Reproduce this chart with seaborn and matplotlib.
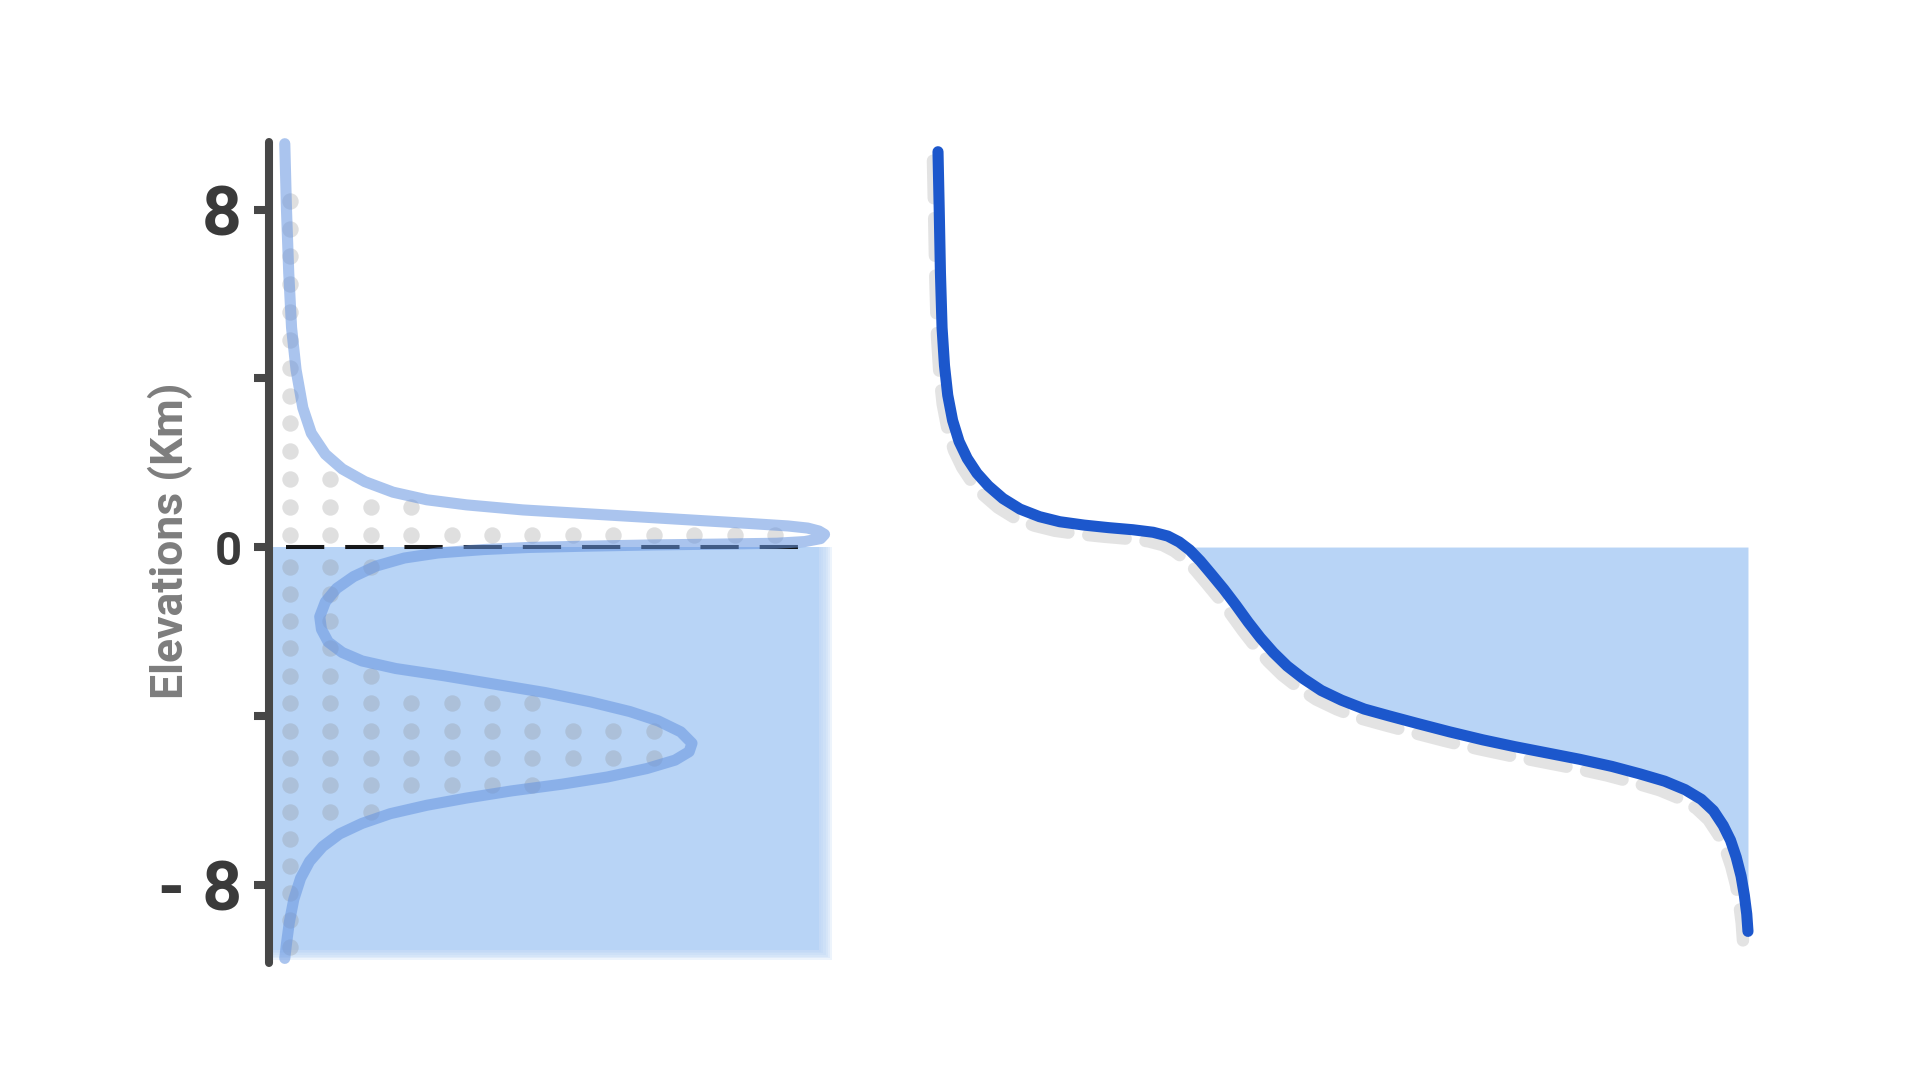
import numpy as np
import pandas as pd
import matplotlib
matplotlib.use("Agg")
import matplotlib.pyplot as plt
from matplotlib.transforms import offset_copy
import seaborn as sns


# =========================================================
# DATA
# =========================================================

# left panel: relative share of surface at each elevation (km)
density_elev = [
    9.56, 8.0, 6.5, 5.2, 4.2, 3.3, 2.7, 2.2, 1.85, 1.55,
    1.30, 1.12, 1.00, 0.88, 0.80, 0.72, 0.64, 0.56, 0.50, 0.45,
    0.38, 0.30, 0.20, 0.13, 0.09, 0.07, 0.05, 0.02, -0.01, -0.06,
    -0.14, -0.26, -0.45, -0.70, -0.98, -1.30, -1.65, -1.95, -2.25, -2.50,
    -2.70, -2.88, -3.05, -3.25, -3.45, -3.67, -3.90, -4.12, -4.38, -4.65,
    -4.85, -5.05, -5.25, -5.45, -5.62, -5.78, -5.95, -6.12, -6.32, -6.55,
    -6.80, -7.10, -7.45, -7.85, -8.35, -8.90, -9.40, -9.75,
]
density_share = [
    0.028, 0.031, 0.035, 0.040, 0.048, 0.060, 0.075, 0.100, 0.130, 0.170,
    0.220, 0.280, 0.350, 0.450, 0.550, 0.650, 0.750, 0.850, 0.920, 0.955,
    0.975, 0.985, 0.978, 0.950, 0.900, 0.800, 0.680, 0.560, 0.460, 0.380,
    0.300, 0.240, 0.190, 0.150, 0.120, 0.100, 0.090, 0.093, 0.105, 0.130,
    0.165, 0.225, 0.310, 0.400, 0.490, 0.570, 0.640, 0.690, 0.730, 0.750,
    0.745, 0.720, 0.670, 0.600, 0.520, 0.430, 0.350, 0.280, 0.215, 0.165,
    0.125, 0.095, 0.072, 0.056, 0.044, 0.036, 0.031, 0.028,
]

# dotted histogram behind the density curve: rows (km) and dots per row
dot_elev = [
    8.21, 7.55, 6.89, 6.23, 5.57, 4.91, 4.25, 3.59, 2.93, 2.27,
    1.61, 0.95, 0.29, -0.48, -1.12, -1.76, -2.40, -3.05, -3.70, -4.35,
    -5.00, -5.64, -6.28, -6.92, -7.56, -8.20, -8.84, -9.48,
]
dot_count = [
    1, 1, 1, 1, 1, 1, 1, 1, 1, 1,
    2, 4, 13, 3, 2, 2, 2, 3, 7, 10,
    10, 7, 3, 1, 1, 1, 1, 1,
]
dot_bin_width = 0.0717

# right panel: hypsometric curve, cumulative % of area above elevation
hyp_area = [
    0.0, 0.15, 0.3, 0.5, 0.8, 1.2, 1.8, 2.6, 3.6, 4.8,
    6.2, 8.0, 10.1, 12.5, 15.0, 18.0, 21.0, 24.0, 26.5, 28.3,
    29.7, 31.0, 32.3, 33.7, 35.2, 36.7, 38.2, 39.7, 41.3, 43.0,
    45.0, 47.2, 49.7, 52.5, 55.5, 59.0, 63.0, 67.1, 71.0, 75.0,
    79.0, 83.0, 86.5, 89.5, 92.0, 94.0, 95.5, 96.7, 97.6, 98.3,
    98.9, 99.3, 99.6, 99.75,
]
hyp_elev = [
    9.37, 8.00, 6.50, 5.20, 4.30, 3.60, 3.00, 2.50, 2.10, 1.75,
    1.45, 1.15, 0.90, 0.72, 0.60, 0.52, 0.46, 0.41, 0.35, 0.26,
    0.12, -0.07, -0.33, -0.65, -1.00, -1.38, -1.78, -2.15, -2.50, -2.82,
    -3.12, -3.40, -3.63, -3.84, -4.00, -4.18, -4.38, -4.57, -4.73, -4.88,
    -5.03, -5.20, -5.38, -5.55, -5.75, -5.98, -6.25, -6.60, -6.95, -7.35,
    -7.80, -8.25, -8.70, -9.11,
]

elev_ticks = [8, 4, 0, -4, -8]
elev_tick_labels = ["8", "", "0", "", "- 8"]
y_label = "Elevations (Km)"


# =========================================================
# STYLE
# =========================================================

sns.set_theme(style="white")
plt.rcParams["font.family"] = ["Roboto", "DejaVu Sans"]

FILL_BLUE = "#b8d4f6"
CURVE_BLUE = "#1c57cc"
SOFT_BLUE = "#6594e0"
AXIS_GREY = "#474747"
YLIM = (-9.86, 9.6)


fig = plt.figure(figsize=(19.2, 10.8), dpi=100)
ax_left = fig.add_axes([0.1401, 0.1083, 0.29375, 0.7602])
ax_right = fig.add_axes([0.48854, 0.1083, 0.42292, 0.7602])

for ax in (ax_left, ax_right):
    ax.set_facecolor("none")


# =========================================================
# LEFT PANEL: DISTRIBUTION OF ELEVATIONS
# =========================================================

# ocean area (soft edged rectangle below sea level)
ax_left.fill_between([0, 0.975], -9.55, 0, color=FILL_BLUE, lw=0, zorder=1)
for i in range(1, 7):
    ax_left.fill_between(
        [0, 0.975 + 0.004 * i], -9.55 - 0.04 * i, 0,
        color=FILL_BLUE, alpha=0.25, lw=0, zorder=1,
    )

dots = pd.DataFrame(
    [
        {"share": 0.037 + dot_bin_width * k, "elev": e}
        for e, n in zip(dot_elev, dot_count)
        for k in range(n)
    ]
)
sns.scatterplot(
    data=dots, x="share", y="elev",
    s=140, color="#8c8c8c", alpha=0.27, linewidth=0,
    ax=ax_left, zorder=2, legend=False,
)

ax_left.axhline(
    0, xmin=0.03, xmax=0.955, color="black", lw=2.9,
    dashes=(9.5, 5.2), alpha=0.9, zorder=3,
)

sns.lineplot(
    x=density_share, y=density_elev, sort=False, estimator=None,
    color=SOFT_BLUE, alpha=0.55, lw=8, solid_capstyle="round",
    solid_joinstyle="round", ax=ax_left, zorder=4, clip_on=False,
)

ax_left.set_xlim(0, 1)
ax_left.set_ylim(*YLIM)
ax_left.set_xticks([])
ax_left.set_xlabel("")
sns.despine(ax=ax_left, bottom=True)

spine = ax_left.spines["left"]
spine.set_linewidth(5.8)
spine.set_color(AXIS_GREY)
spine.set_capstyle("round")
spine.set_zorder(6)

ax_left.set_yticks(elev_ticks, labels=elev_tick_labels)
ax_left.tick_params(
    axis="y", left=True, length=10.8, width=5.8, color=AXIS_GREY,
    pad=8.6, labelsize=50, labelcolor="#3a3a3a",
)
for lbl in ax_left.get_yticklabels():
    lbl.set_fontweight("bold")
    if lbl.get_text() == "0":
        lbl.set_fontsize(34)

ax_left.set_ylabel(
    y_label, fontsize=32, fontweight="bold", color="#7d7d7d",
)
ax_left.yaxis.label.set_va("center")
ax_left.yaxis.set_label_coords(-0.1755, 0.514)


# =========================================================
# RIGHT PANEL: HYPSOMETRIC CURVE
# =========================================================

hyp_elev_arr = np.array(hyp_elev)

ax_right.fill_between(
    hyp_area, hyp_elev, 0, where=hyp_elev_arr <= 0,
    interpolate=True, color=FILL_BLUE, lw=0, zorder=1,
)

shadow = offset_copy(ax_right.transData, fig=fig, x=-5, y=-9, units="dots")
sns.lineplot(
    x=hyp_area, y=hyp_elev, sort=False, estimator=None,
    color="#b0b0b0", alpha=0.35, lw=9, linestyle=(0, (3, 1.6)),
    dash_capstyle="round", transform=shadow,
    ax=ax_right, zorder=2, clip_on=False,
)

sns.lineplot(
    x=hyp_area, y=hyp_elev, sort=False, estimator=None,
    color=CURVE_BLUE, lw=8, solid_capstyle="round",
    solid_joinstyle="round", ax=ax_right, zorder=3, clip_on=False,
)

ax_right.set_xlim(0, 100)
ax_right.set_ylim(*YLIM)
ax_right.axis("off")

fig.savefig("out.png", dpi=100, facecolor="white")
